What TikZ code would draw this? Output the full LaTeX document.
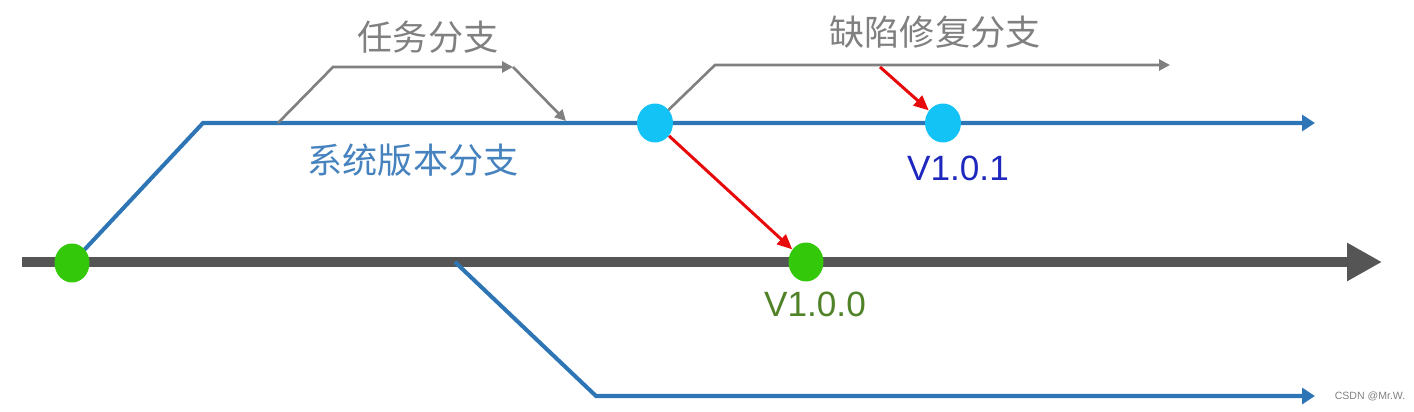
\documentclass[tikz,border=0pt]{standalone}
\usepackage{xcolor,tikz,fontspec}
\usetikzlibrary{arrows.meta,positioning,backgrounds,shapes.geometric}
\setmainfont{Liberation Sans}
\newfontfamily\cjk{Noto Sans CJK SC}
\definecolor{trunk}{RGB}{85,85,85}
\definecolor{branch}{RGB}{46,117,182}
\definecolor{side}{RGB}{128,128,128}
\definecolor{fix}{RGB}{232,10,10}
\definecolor{release}{RGB}{51,200,10}
\definecolor{tag}{RGB}{20,195,245}
\definecolor{bluetext}{RGB}{70,130,190}
\definecolor{navytext}{RGB}{30,40,190}
\definecolor{greentext}{RGB}{80,130,40}
\tikzset{
  main/.style={line width=5.8pt,draw=trunk,-{Triangle[length=0.7cm,width=0.72cm]}},
  sys/.style={line width=2.3pt,draw=branch,-{Triangle[length=0.26cm,width=0.32cm]}},
  task/.style={line width=1.5pt,draw=side,-{Triangle[length=0.22cm,width=0.22cm]}},
  redarr/.style={line width=1.7pt,draw=fix,-{Triangle[length=0.3cm,width=0.26cm]}},
  gdot/.style={ellipse,fill=release,minimum width=0.7cm,minimum height=0.78cm,inner sep=0pt},
  cdot/.style={ellipse,fill=tag,minimum width=0.72cm,minimum height=0.78cm,inner sep=0pt},
  cn/.style={font=\cjk\fontsize{20}{24}\selectfont,inner sep=0pt},
  ver/.style={font=\fontsize{20}{24}\selectfont,inner sep=0pt}
}
\begin{document}
\begin{tikzpicture}[x=0.02cm,y=-0.02cm]
  \useasboundingbox (0,0) rectangle (1414,412);
  % commits
  \node[gdot] (c0) at (72,263) {};
  \node[gdot] (v100) at (806,262) {};
  \node[cdot] (fork) at (655,123) {};
  \node[cdot] (v101) at (943,123) {};
  % free ends
  \coordinate (m0) at (22,262);
  \coordinate (m1) at (1382,262);
  \coordinate (s0) at (203,123);
  \coordinate (s1) at (1315,123);
  \coordinate (t0) at (278,123);
  \coordinate (t1) at (333,67);
  \coordinate (t2) at (513,67);
  \coordinate (t3) at (566,121);
  \coordinate (d1) at (715,65);
  \coordinate (d2) at (1170,65);
  \coordinate (r0) at (880,67);
  \coordinate (b0) at (455,262);
  \coordinate (b1) at (596,396);
  \coordinate (b2) at (1315,396);
  \begin{scope}[on background layer]
    \draw[main] (m0) -- (m1);
    \draw[sys] (c0.center) -- (s0) -- (s1);
    \draw[sys] (b0) -- (b1) -- (b2);
    \draw[task] (t0) -- (t1) -- (t2);
    \draw[task] (t2) -- (t3);
    \draw[task] (fork.center) -- (d1) -- (d2);
  \end{scope}
  \draw[redarr] (r0) -- (v101);
  \draw[redarr] (fork) -- (v100);
  % labels
  \node[cn,text=side] (tasklab) at (428,37) {任务分支};
  \node[cn,text=side] (fixlab) at (935,32) {缺陷修复分支};
  \node[cn,text=bluetext] (syslab) at (413,160) {系统版本分支};
  \node[ver,text=navytext] (l101) at (958,168) {V1.0.1};
  \node[ver,text=greentext] (l100) at (815,304) {V1.0.0};
  \node[font=\fontsize{6}{7}\selectfont,text=side,inner sep=0pt] (mark) at (1370,396) {CSDN @Mr.W.};
\end{tikzpicture}
\end{document}
